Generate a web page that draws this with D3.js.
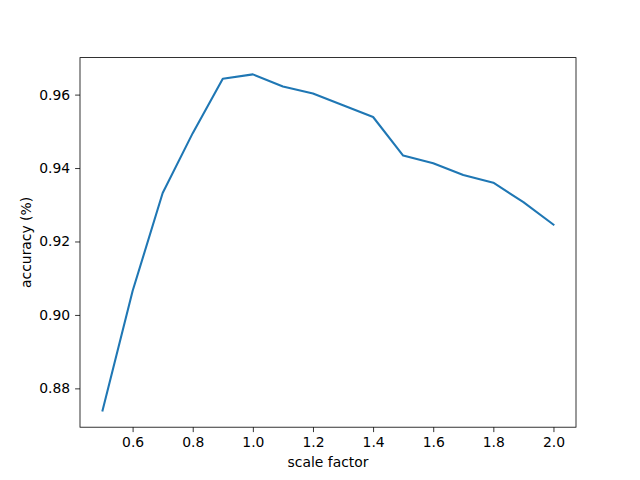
<!DOCTYPE html>
<html>
<head>
<meta charset="utf-8">
<script src="https://cdn.jsdelivr.net/npm/d3@7"></script>
<style>
  body { margin: 0; background: #fff; }
  text { font-family: "DejaVu Sans", sans-serif; }
</style>
</head>
<body>
<svg id="chart" width="640" height="480"></svg>
<script>
const scaleFactors = [0.5, 0.6, 0.7, 0.8, 0.9, 1.0, 1.1, 1.2, 1.3, 1.4, 1.5, 1.6, 1.7, 1.8, 1.9, 2.0];
const accuracy = [0.8740, 0.9065, 0.9332, 0.9495, 0.9643, 0.9655, 0.9622, 0.9603, 0.9571, 0.9539,
  0.9434, 0.9413, 0.9381, 0.9360, 0.9307, 0.9246];
const xTicks = [0.6, 0.8, 1.0, 1.2, 1.4, 1.6, 1.8, 2.0];
const yTicks = [0.88, 0.90, 0.92, 0.94, 0.96];

const svg = d3.select('#chart');
const margin = { left: 80, right: 576, top: 57.6, bottom: 427.2 };

const pad = (lo, hi) => [lo - (hi - lo) * 0.05, hi + (hi - lo) * 0.05];

const x = d3.scaleLinear()
  .domain(pad(d3.min(scaleFactors), d3.max(scaleFactors)))
  .range([margin.left, margin.right]);

const y = d3.scaleLinear()
  .domain(pad(d3.min(accuracy), d3.max(accuracy)))
  .range([margin.bottom, margin.top]);

const tickStyle = (g) => {
  g.select('.domain').remove();
  g.selectAll('line').attr('stroke', '#000').attr('stroke-width', 0.8);
  g.selectAll('text').attr('font-size', 13.9).attr('fill', '#000')
    .attr('font-family', '"DejaVu Sans", sans-serif');
};

svg.append('g')
  .attr('transform', `translate(0,${margin.bottom})`)
  .call(d3.axisBottom(x).tickValues(xTicks).tickFormat(d3.format('.1f')).tickSize(4.9).tickPadding(4.9))
  .call(tickStyle);

svg.append('g')
  .attr('transform', `translate(${margin.left},0)`)
  .call(d3.axisLeft(y).tickValues(yTicks).tickFormat(d3.format('.2f')).tickSize(4.9).tickPadding(4.9))
  .call(tickStyle);

const line = d3.line()
  .x((d, i) => x(scaleFactors[i]))
  .y((d) => y(d));

svg.append('path')
  .datum(accuracy)
  .attr('d', line)
  .attr('fill', 'none')
  .attr('stroke', '#1f77b4')
  .attr('stroke-width', 2.08)
  .attr('stroke-linejoin', 'round')
  .attr('stroke-linecap', 'square');

svg.append('rect')
  .attr('x', margin.left)
  .attr('y', margin.top)
  .attr('width', margin.right - margin.left)
  .attr('height', margin.bottom - margin.top)
  .attr('fill', 'none')
  .attr('stroke', '#000')
  .attr('stroke-width', 0.8);

svg.append('text')
  .attr('x', (margin.left + margin.right) / 2)
  .attr('y', 467)
  .attr('text-anchor', 'middle')
  .attr('font-size', 13.9)
  .text('scale factor');

svg.append('text')
  .attr('transform', `translate(31,${(margin.top + margin.bottom) / 2}) rotate(-90)`)
  .attr('text-anchor', 'middle')
  .attr('font-size', 13.9)
  .text('accuracy (%)');
</script>
</body>
</html>
